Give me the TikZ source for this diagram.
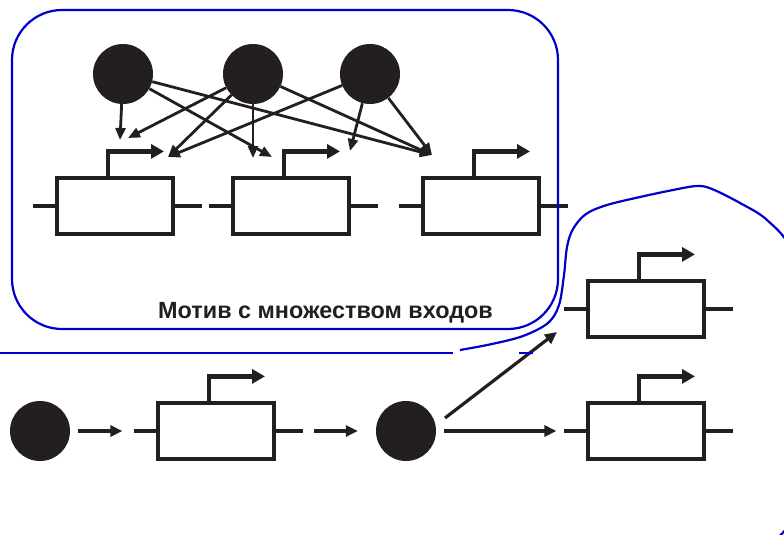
\documentclass[tikz,border=0pt]{standalone}
\usepackage{fontspec}
\setmainfont{Liberation Sans}
\usetikzlibrary{arrows.meta}
\definecolor{ink}{HTML}{231F20}
\definecolor{frameblue}{RGB}{0,0,205}
\begin{document}
\begin{tikzpicture}[x=1pt,y=-1pt,
  gene/.style={draw=ink, line width=3.2pt, fill=white, minimum width=116pt,
    minimum height=56pt, inner sep=0pt},
  dot/.style={circle, fill=ink, minimum size=60pt, inner sep=0pt},
  link/.style={draw=ink, line width=2.8pt, -{Triangle[length=12pt,width=10pt]}},
  flow/.style={draw=ink, line width=3.2pt, -{Triangle[length=12pt,width=11pt]}},
  prom/.style={draw=ink, line width=4.2pt, miter limit=10,
    -{Triangle[length=13pt,width=14pt]}},
  lead/.style={draw=ink, line width=4.2pt},
  frame/.style={draw=frameblue, line width=2.2pt}]
\useasboundingbox (0,0) rectangle (784,535);
\clip (0,0) rectangle (784,535);

% regulators of the multi-input motif
\node[dot] (c1) at (123,74) {};
\node[dot] (c2) at (253,74) {};
\node[dot] (c3) at (370,74) {};

% genes
\node[gene] (b1) at (115,206) {};
\node[gene] (b2) at (291,206) {};
\node[gene] (b3) at (481,206) {};
\node[gene] (b4) at (646,309) {};
\node[gene] (b5) at (646,431) {};
\node[gene] (b6) at (216,431) {};

% lower cascade regulators
\node[dot] (c4) at (40,431) {};
\node[dot] (c5) at (406,431) {};

% leads and promoters of every gene
\foreach \g in {b1,b2,b3,b4,b5,b6}{
  \draw[lead] (\g.west) -- ++(-22,0);
  \draw[lead] (\g.east) -- ++(27,0);
  \draw[prom] ([xshift=-7pt]\g.north) -- ++(0,-25) -- ++(56,0);
}

% arrow targets above the genes
\coordinate (t1a) at (120,140);
\coordinate (t1b) at (128,138);
\coordinate (t1c) at (168,157);
\coordinate (t2a) at (272,157);
\coordinate (t2b) at (253,158);
\coordinate (t2c) at (350,151);
\coordinate (t3)  at (432,155);
\coordinate (t4)  at (557,332);

\draw[link] (c1) -- (t1a);
\draw[link] (c1) -- (t2a);
\draw[link] (c1) -- (t3);
\draw[link] (c2) -- (t1b);
\draw[link] (c2) -- (t1c);
\draw[link] (c2) -- (t2b);
\draw[link] (c2) -- (t3);
\draw[link] (c3) -- (t1c);
\draw[link] (c3) -- (t2c);
\draw[link] (c3) -- (t3);

% cascade
\draw[flow, shorten <=8pt, shorten >=34pt] (c4) -- (b6.west);
\draw[flow, shorten <=38pt, shorten >=18pt] (b6.east) -- (c5);
\draw[flow, shorten <=8pt, shorten >=30pt] (c5) -- (b5.west);
\draw[flow] ([shift={(39,-13)}]c5.center) -- (t4);

% label
\node[anchor=base west, inner sep=0pt, text=ink,
  font=\bfseries\fontsize{23.4}{28}\selectfont] (lbl) at (158,318)
  {Мотив с множеством входов};

% outlines
\draw[frame, rounded corners=50pt] (12,10) rectangle (558,329);
\draw[frame] (0,353) -- (453,353);
\draw[frame] (519,353) -- (533,353);
\draw[frame] plot[smooth, tension=0.55] coordinates {
  (460,350) (492,344) (523,336) (548,323) (559,305) (564,275) (567,247)
  (573,229) (586,214) (607,205) (640,197) (673,190) (697,186) (712,189)
  (740,203) (767,220) (792,252) (808,330) (808,450) (795,515) (770,545)};
\end{tikzpicture}
\end{document}
